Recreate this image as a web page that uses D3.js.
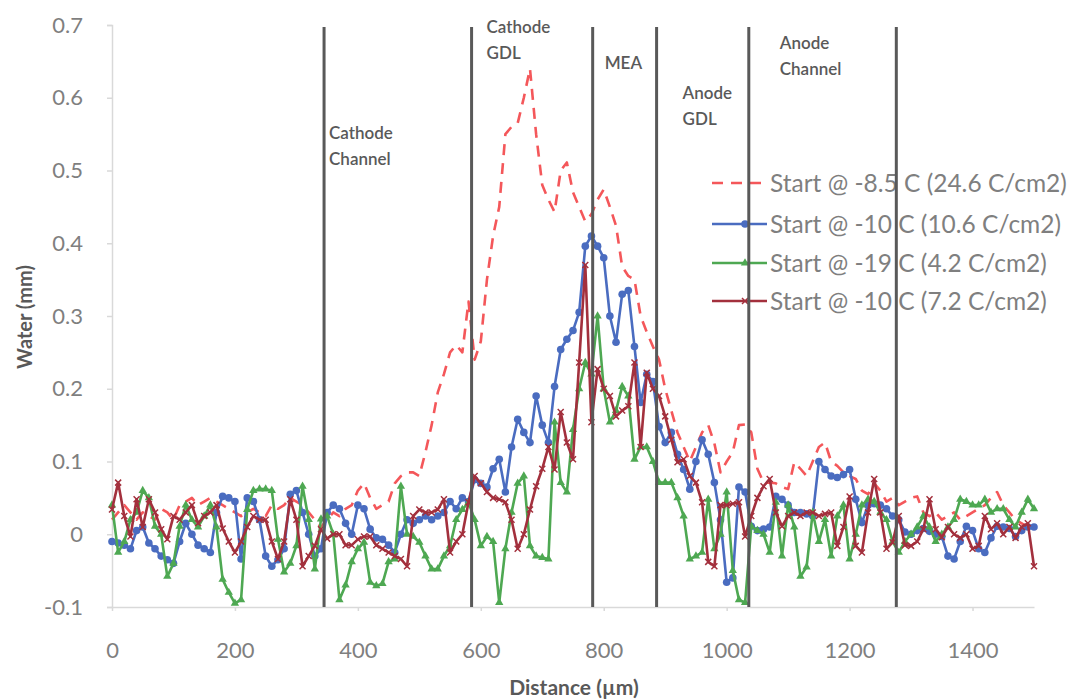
<!DOCTYPE html>
<html><head><meta charset="utf-8">
<script src="https://cdn.jsdelivr.net/npm/d3@7"></script>
<style>
html,body{margin:0;padding:0;background:#fff;}
svg{display:block;font-family:Lato,"Open Sans",sans-serif;}
</style></head>
<body>
<svg id="chart" width="1079" height="699"></svg>
<script>
const distance = [0,10,20,30,40,50,60,70,80,90,100,110,120,130,140,150,160,170,180,190,
200,210,220,230,240,250,260,270,280,290,300,310,320,330,340,350,360,370,380,390,
400,410,420,430,440,450,460,470,480,490,500,510,520,530,540,550,560,570,580,590,
600,610,620,630,640,650,660,670,680,690,700,710,720,730,740,750,760,770,780,790,
800,810,820,830,840,850,860,870,880,890,900,910,920,930,940,950,960,970,980,990,
1000,1010,1020,1030,1040,1050,1060,1070,1080,1090,1100,1110,1120,1130,1140,1150,1160,1170,1180,1190,
1200,1210,1220,1230,1240,1250,1260,1270,1280,1290,1300,1310,1320,1330,1340,1350,1360,1370,1380,1390,
1400,1410,1420,1430,1440,1450,1460,1470,1480,1490,1500];

const start85 = [0.02,0.03,0.04,0.03,0.02,0.03,0.025,0.02,0.035,0.03,
0.02,0.04,0.045,0.05,0.04,0.045,0.05,0.045,0.04,0.035,
0.03,0.025,0.03,0.035,0.03,0.025,0.04,0.035,0.04,0.05,
0.045,0.04,0.03,0.02,0.01,0.02,0.03,0.025,0.035,0.04,
0.06,0.07,0.05,0.035,0.04,0.045,0.07,0.08,0.085,0.085,
0.08,0.113,0.15,0.195,0.22,0.25,0.26,0.25,0.32,0.24,
0.265,0.35,0.41,0.45,0.55,0.56,0.565,0.6,0.64,0.55,
0.48,0.46,0.443,0.5,0.511,0.47,0.45,0.43,0.44,0.46,
0.474,0.45,0.424,0.368,0.355,0.35,0.3,0.278,0.258,0.24,
0.2,0.17,0.14,0.12,0.1,0.12,0.14,0.15,0.125,0.085,
0.1,0.113,0.15,0.151,0.14,0.09,0.071,0.071,0.07,0.065,
0.062,0.099,0.09,0.08,0.1,0.12,0.126,0.1,0.094,0.085,
0.08,0.076,0.06,0.055,0.07,0.06,0.045,0.05,0.04,0.045,
0.05,0.052,0.03,0.025,0.03,0.02,0.025,0.03,0.02,0.025,
0.03,0.035,0.04,0.05,0.058,0.04,0.03,0.02,0.015,0.01,
0.01];

const start10a = [-0.01,-0.012,-0.015,-0.02,0.005,0.01,-0.012,-0.02,-0.03,-0.035,
-0.04,-0.01,0.015,0.0,-0.015,-0.02,-0.025,0.03,0.052,0.05,
0.045,-0.034,0.05,0.045,0.02,-0.03,-0.044,-0.035,-0.02,0.055,
0.06,0.03,0.0,-0.03,-0.02,0.03,0.04,0.035,0.015,0.0,
0.04,0.035,0.007,-0.005,-0.007,-0.015,-0.025,0.0,0.02,0.015,
0.02,0.025,0.02,0.025,0.03,0.045,0.035,0.05,0.045,0.075,
0.07,0.065,0.09,0.103,0.058,0.12,0.158,0.14,0.126,0.19,
0.15,0.126,0.203,0.254,0.268,0.28,0.305,0.396,0.41,0.396,
0.38,0.3,0.264,0.33,0.335,0.258,0.181,0.22,0.21,0.148,
0.126,0.14,0.11,0.089,0.062,0.1,0.13,0.11,0.071,0.02,
-0.066,-0.06,0.065,0.058,0.011,0.005,0.007,0.01,0.052,0.048,
0.04,0.03,0.03,0.028,0.025,0.1,0.089,0.08,0.078,0.082,
0.089,0.048,0.016,0.04,0.042,0.04,0.035,0.025,0.02,0.003,
0.0,0.005,0.008,0.004,0.0,-0.003,-0.03,-0.034,-0.01,0.011,
0.005,-0.02,-0.025,-0.005,0.011,0.01,0.008,-0.003,0.005,0.01,
0.01];

const start19 = [0.04,-0.025,-0.01,0.02,0.03,0.06,0.05,0.011,0.0,-0.058,
-0.04,0.011,0.04,0.02,0.01,0.025,0.04,0.01,-0.062,-0.08,
-0.095,-0.09,0.034,0.06,0.062,0.062,0.06,-0.007,-0.052,-0.04,
-0.016,0.066,0.02,-0.048,0.021,0.025,0.0,-0.09,-0.07,-0.038,
-0.02,-0.011,-0.066,-0.071,-0.068,-0.038,-0.034,0.066,0.0,-0.003,
-0.011,-0.03,-0.048,-0.048,-0.03,-0.016,0.02,0.034,0.044,0.02,
-0.016,-0.003,-0.01,-0.094,-0.02,0.03,0.07,0.08,-0.016,-0.03,
-0.032,-0.034,0.154,0.071,0.058,0.144,0.2,0.236,0.22,0.3,
0.2,0.154,0.17,0.203,0.19,0.103,0.12,0.12,0.1,0.071,
0.071,0.071,0.05,0.025,-0.034,-0.03,-0.025,0.048,-0.02,0.0,
0.058,-0.05,-0.09,-0.094,0.011,0.005,0.0,-0.025,0.044,-0.03,
0.04,0.01,-0.058,-0.045,0.03,-0.01,0.02,-0.03,0.025,0.04,
-0.034,0.0,0.04,0.048,0.045,0.03,0.02,-0.01,-0.025,-0.01,
0.0,0.01,0.025,0.01,-0.01,0.0,0.01,0.02,0.048,0.045,
0.04,0.04,0.048,0.03,0.035,0.035,0.02,0.01,0.03,0.048,
0.035];

const start10b = [0.034,0.071,0.025,-0.003,0.048,0.01,0.048,0.03,0.007,-0.007,
0.025,0.02,0.03,0.04,0.015,0.025,0.03,0.04,0.008,-0.01,
-0.025,-0.01,0.01,0.025,0.02,0.02,-0.01,-0.034,-0.01,0.048,
0.02,-0.044,-0.03,-0.016,0.007,-0.006,0.0,0.0,-0.015,-0.015,
-0.007,-0.003,-0.003,-0.015,-0.02,-0.025,-0.03,-0.034,-0.044,0.025,
0.034,0.03,0.03,0.034,0.048,-0.025,-0.01,0.0,0.044,0.08,
0.07,0.058,0.05,0.048,0.044,0.02,-0.02,0.0,0.034,0.066,
0.09,0.12,0.089,0.168,0.126,0.103,0.236,0.37,0.154,0.227,
0.2,0.19,0.162,0.17,0.176,0.236,0.12,0.222,0.2,0.19,
0.162,0.13,0.099,0.103,0.08,0.071,0.044,-0.038,-0.044,0.04,
0.04,0.042,0.044,-0.003,0.025,0.05,0.066,0.076,0.03,0.011,
0.025,0.03,0.025,0.03,0.03,0.025,0.028,0.03,-0.016,0.01,
0.052,-0.016,-0.025,0.03,0.076,0.03,-0.02,-0.011,0.025,-0.015,
-0.016,-0.01,0.007,0.048,0.007,-0.004,0.01,0.0,-0.005,0.0,
-0.02,-0.016,0.025,0.007,0.015,0.0,0.01,-0.005,0.01,0.015,
-0.044];

const seriesNames = ["Start @ -8.5 C (24.6 C/cm2)","Start @ -10 C (10.6 C/cm2)","Start @ -19 C (4.2 C/cm2)","Start @ -10 C (7.2 C/cm2)"];
const boundaries = [345, 585, 782, 886, 1036, 1276];
const regionLabels = [
  {at: 345, lines: ["Cathode","Channel"]},
  {at: 585, lines: ["Cathode","GDL"]},
  {at: 782, lines: ["MEA"]},
  {at: 886, lines: ["Anode","GDL"]},
  {at: 1036, lines: ["Anode","Channel"]}
];
const xTicks = [0,200,400,600,800,1000,1200,1400];
const yTicks = [-0.1,0,0.1,0.2,0.3,0.4,0.5,0.6,0.7];

const svg = d3.select("#chart");
const x = d3.scaleLinear().domain([0,1500]).range([112,1034]);
const y = d3.scaleLinear().domain([-0.1,0.7]).range([607,25]);

const axisCol = "#d9d9d9", textCol = "#7f7f7f", titleCol = "#595959";

// y axis
const gy = svg.append("g").attr("transform","translate(112,0)")
  .call(d3.axisLeft(y).tickValues(yTicks).tickSize(5).tickPadding(24).tickFormat(d=>String(+d.toFixed(1))));
gy.select(".domain").attr("stroke",axisCol).attr("stroke-width",1.5);
gy.selectAll(".tick line").attr("stroke",axisCol).attr("stroke-width",1.5);
gy.selectAll(".tick text").attr("fill",textCol).style("font-size","22px").style("font-family","Lato, sans-serif");

// x axis
const gx = svg.append("g").attr("transform","translate(0,607)")
  .call(d3.axisBottom(x).tickValues(xTicks).tickSize(4).tickPadding(31).tickSizeOuter(0).tickFormat(d3.format("d")));
gx.select(".domain").attr("stroke",axisCol).attr("stroke-width",1.5);
gx.selectAll(".tick line").attr("stroke",axisCol).attr("stroke-width",1.5);
gx.selectAll(".tick text").attr("fill",textCol).style("font-size","22px").style("font-family","Lato, sans-serif");

// axis titles
svg.append("text").attr("transform","translate(32,317) rotate(-90)")
  .attr("text-anchor","middle").attr("fill",titleCol)
  .style("font-size","20px").style("font-weight","bold").text("Water (mm)");
svg.append("text").attr("x",574).attr("y",695)
  .attr("text-anchor","middle").attr("fill",titleCol)
  .style("font-size","21px").style("font-weight","bold").text("Distance (\u00b5m)");

const pts = (vals) => distance.map((d,i)=>({d, v: vals[i]}));
const line = d3.line().x(p=>x(p.d)).y(p=>y(p.v));

const styles = [
  {vals: start85, color: "#f4575a", dash: "11,8", marker: null},
  {vals: start10a, color: "#4a6cc0", dash: null, marker: "circle"},
  {vals: start19, color: "#4ea852", dash: null, marker: "triangle"},
  {vals: start10b, color: "#a3303d", dash: null, marker: "x"}
];

const plot = svg.append("g");
function drawMarker(g, type, color, cx, cy){
  if(type==="circle"){
    g.append("circle").attr("cx",cx).attr("cy",cy).attr("r",3.8).attr("fill",color);
  } else if(type==="triangle"){
    g.append("path").attr("d",d3.symbol(d3.symbolTriangle,30)()).attr("transform",`translate(${cx},${cy})`).attr("fill",color);
  } else if(type==="x"){
    g.append("path").attr("d",`M${cx-3},${cy-3}L${cx+3},${cy+3}M${cx-3},${cy+3}L${cx+3},${cy-3}`).attr("stroke",color).attr("stroke-width",1.5);
  }
}
styles.forEach(s=>{
  const data = pts(s.vals);
  plot.append("path").datum(data).attr("d",line).attr("fill","none")
    .attr("stroke",s.color).attr("stroke-width",2.6)
    .attr("stroke-dasharray",s.dash).attr("stroke-linejoin","round");
  if(s.marker){
    const mg = plot.append("g");
    data.forEach(p=>drawMarker(mg,s.marker,s.color,x(p.d),y(p.v)));
  }
});

// legend
const legY = [183,224,263,301];
const leg = svg.append("g");
styles.forEach((s,i)=>{
  leg.append("line").attr("x1",712).attr("x2",767).attr("y1",legY[i]).attr("y2",legY[i])
    .attr("stroke",s.color).attr("stroke-width",2.6).attr("stroke-dasharray",s.dash);
  if(s.marker) drawMarker(leg,s.marker,s.color,745,legY[i]);
  leg.append("text").attr("x",770).attr("y",legY[i]).attr("dy","0.35em")
    .attr("fill",textCol).style("font-size","24.5px").text(seriesNames[i]);
});

// boundaries
svg.append("g").selectAll("line").data(boundaries).join("line")
  .attr("x1",d=>x(d)).attr("x2",d=>x(d)).attr("y1",y(0.7)+2).attr("y2",y(-0.1))
  .attr("stroke","#595959").attr("stroke-width",3);

// region labels
const labelPos = [
  {dx: 5, y0: 139},
  {dx: 15, y0: 33},
  {dx: 12, y0: 69},
  {dx: 26, y0: 99},
  {dx: 31, y0: 49}
];
regionLabels.forEach((r,i)=>{
  const t = svg.append("text").attr("fill",titleCol).style("font-size","17px").style("font-weight","600");
  r.lines.forEach((ln,j)=>{
    t.append("tspan").attr("x",x(r.at)+labelPos[i].dx).attr("y",labelPos[i].y0+j*26).text(ln);
  });
});
</script>
</body></html>
